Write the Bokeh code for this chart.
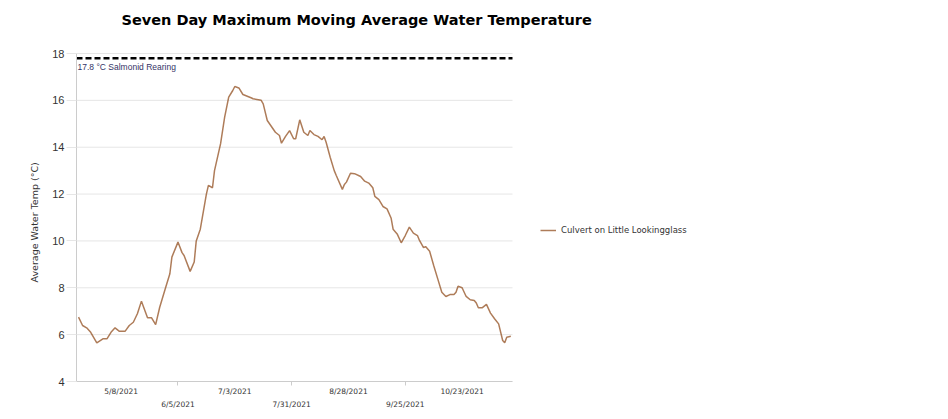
import pandas as pd
from bokeh.plotting import figure
from bokeh.models import (Label, Legend, LegendItem, FixedTicker, DatetimeAxis, Title,
                          DatetimeTickFormatter, Range1d, ColumnDataSource)
from bokeh.embed import file_html
from bokeh.resources import INLINE

# ---- data ----
dates = ["2021-04-17", "2021-04-19", "2021-04-21", "2021-04-23", "2021-04-26", "2021-04-29",
         "2021-05-01", "2021-05-03", "2021-05-05", "2021-05-07", "2021-05-10", "2021-05-12",
         "2021-05-14", "2021-05-16", "2021-05-18", "2021-05-20", "2021-05-21", "2021-05-23",
         "2021-05-25", "2021-05-27", "2021-05-30", "2021-06-01", "2021-06-02", "2021-06-05",
         "2021-06-07", "2021-06-08", "2021-06-11", "2021-06-13", "2021-06-14", "2021-06-16",
         "2021-06-19", "2021-06-20", "2021-06-22", "2021-06-23", "2021-06-26", "2021-06-28",
         "2021-06-30", "2021-07-02", "2021-07-03", "2021-07-05", "2021-07-07", "2021-07-11",
         "2021-07-12", "2021-07-16", "2021-07-17", "2021-07-19", "2021-07-23", "2021-07-25",
         "2021-07-26", "2021-07-28", "2021-07-30", "2021-08-01", "2021-08-02", "2021-08-04",
         "2021-08-06", "2021-08-08", "2021-08-09", "2021-08-11", "2021-08-13", "2021-08-15",
         "2021-08-16", "2021-08-17", "2021-08-19", "2021-08-21", "2021-08-22", "2021-08-25",
         "2021-08-26", "2021-08-27", "2021-08-29", "2021-08-31", "2021-09-03", "2021-09-05",
         "2021-09-07", "2021-09-09", "2021-09-10", "2021-09-12", "2021-09-14", "2021-09-16",
         "2021-09-18", "2021-09-19", "2021-09-21", "2021-09-23", "2021-09-25", "2021-09-27",
         "2021-09-29", "2021-10-01", "2021-10-02", "2021-10-04", "2021-10-05", "2021-10-07",
         "2021-10-09", "2021-10-11", "2021-10-13", "2021-10-15", "2021-10-17", "2021-10-19",
         "2021-10-20", "2021-10-21", "2021-10-23", "2021-10-25", "2021-10-27", "2021-10-29",
         "2021-10-30", "2021-10-31", "2021-11-02", "2021-11-04", "2021-11-06", "2021-11-08",
         "2021-11-10", "2021-11-12", "2021-11-13", "2021-11-14", "2021-11-16"]
temps = [6.75, 6.39, 6.29, 6.10, 5.65, 5.82,
         5.82, 6.10, 6.29, 6.15, 6.15, 6.39,
         6.53, 6.89, 7.43, 6.96, 6.72, 6.72,
         6.43, 7.17, 8.03, 8.60, 9.31, 9.95,
         9.50, 9.38, 8.70, 9.10, 10.00, 10.50,
         12.00, 12.37, 12.27, 13.00, 14.15, 15.28,
         16.14, 16.42, 16.59, 16.53, 16.25, 16.11,
         16.07, 16.00, 15.85, 15.14, 14.64, 14.50,
         14.17, 14.46, 14.71, 14.36, 14.36, 15.17,
         14.64, 14.50, 14.71, 14.54, 14.46, 14.32,
         14.46, 14.21, 13.57, 13.00, 12.79, 12.20,
         12.41, 12.51, 12.89, 12.87, 12.75, 12.55,
         12.47, 12.27, 11.90, 11.76, 11.47, 11.37,
         10.98, 10.50, 10.30, 9.92, 10.23, 10.59,
         10.33, 10.23, 10.02, 9.71, 9.76, 9.56,
         8.95, 8.38, 7.81, 7.63, 7.71, 7.71,
         7.81, 8.07, 8.00, 7.63, 7.49, 7.46,
         7.35, 7.15, 7.15, 7.29, 6.92, 6.68,
         6.46, 5.75, 5.65, 5.89, 5.93]
title_text = "Seven Day Maximum Moving Average Water Temperature"
y_title = "Average Water Temp (°C)"
series_name = "Culvert on Little Lookingglass"
threshold = 17.8
threshold_label = "17.8 °C Salmonid Rearing"
tick_row1 = ["2021-05-08", "2021-07-03", "2021-08-28", "2021-10-23"]
tick_row2 = ["2021-06-05", "2021-07-31", "2021-09-25"]
y_ticks = [4, 6, 8, 10, 12, 14, 16, 18]


def ms(d):
    return float(pd.Timestamp(d).value // 10**6)


# axis extents (the plotting area proper)
x_start = ms("2021-04-16")
x_end = ms("2021-11-16") + 20 * 3600 * 1000
y_lo, y_hi = 4, 18

# The drawing frame is extended to the right and to the top of the canvas so that
# the title and the legend can sit in it; the axes are bounded to the real area.
AREA_W, AREA_H, FRAME_W, TOP = 436, 328, 864, 53
x_far = x_start + (x_end - x_start) * FRAME_W / AREA_W
y_far = y_hi + TOP * (y_hi - y_lo) / AREA_H

src = ColumnDataSource(data=dict(x=pd.to_datetime(dates), y=temps))
grid_src = ColumnDataSource(data=dict(x0=[x_start] * len(y_ticks), x1=[x_end] * len(y_ticks),
                                      y=y_ticks))

p = figure(width=940, height=419, x_axis_type="datetime", output_backend="svg",
           toolbar_location=None,
           x_range=Range1d(x_start, x_far), y_range=Range1d(y_lo, y_far),
           min_border_left=76, min_border_right=0, min_border_top=0, min_border_bottom=38)
p.outline_line_color = None
p.background_fill_color = "white"
p.border_fill_color = "white"
p.xgrid.grid_line_color = None
p.ygrid.grid_line_color = None

# horizontal grid lines limited to the plotting area
p.segment(x0="x0", x1="x1", y0="y", y1="y", source=grid_src, line_color="#e6e6e6",
          line_width=1)

# title
p.add_layout(Label(x=45, y=362, x_units="screen", y_units="screen", text=title_text,
                   text_align="left", text_baseline="middle", text_font="DejaVu Sans",
                   text_font_style="bold", text_font_size="14.5px", text_color="#000000"))

# y axis
ya = p.yaxis[0]
ya.bounds = (y_lo, y_hi)
ya.ticker = FixedTicker(ticks=y_ticks, minor_ticks=[])
ya.axis_line_color = "#cccccc"
ya.major_tick_line_color = "#e6e6e6"
ya.major_tick_out = 10
ya.major_tick_in = 0
ya.minor_tick_line_color = None
ya.major_label_standoff = 2
ya.major_label_text_font = "Liberation Sans"
ya.major_label_text_font_size = "11px"
ya.major_label_text_color = "#333333"

# y axis title (placed along the bounded axis)
p.add_layout(Title(text=y_title, align="left", offset=99, standoff=17, vertical_align="middle",
                   text_font="DejaVu Sans", text_font_size="9.5px", text_font_style="normal",
                   text_color="#333333"), "left")

fmt = DatetimeTickFormatter(days="%-m/%-d/%Y", months="%-m/%-d/%Y")

# x axis row 1
xa = p.xaxis[0]
xa.bounds = (x_start, x_end)
xa.ticker = FixedTicker(ticks=[ms(d) for d in tick_row1], minor_ticks=[ms(d) for d in tick_row2])
xa.formatter = fmt
xa.axis_line_color = "#cccccc"
xa.major_tick_out = 0
xa.major_tick_in = 0
xa.minor_tick_out = 4
xa.minor_tick_in = 0
xa.minor_tick_line_color = "#cccccc"
xa.major_label_standoff = 1
xa.major_label_text_font = "DejaVu Sans"
xa.major_label_text_font_size = "7.5px"
xa.major_label_text_color = "#333333"

# x axis row 2 (staggered labels)
xb = DatetimeAxis(ticker=FixedTicker(ticks=[ms(d) for d in tick_row2], minor_ticks=[]),
                  formatter=fmt, bounds=(x_start, x_end))
xb.axis_line_color = None
xb.major_tick_line_color = None
xb.minor_tick_line_color = None
xb.major_tick_out = 0
xb.major_tick_in = 0
xb.major_label_standoff = 1
xb.major_label_text_font = "DejaVu Sans"
xb.major_label_text_font_size = "7.5px"
xb.major_label_text_color = "#333333"
p.add_layout(xb, "below")

# threshold
p.segment(x0=[x_start], x1=[x_end], y0=[threshold], y1=[threshold], line_color="black",
          line_width=2.5, line_dash="6 3")
p.add_layout(Label(x=ms(dates[0]), y=threshold, text=threshold_label, text_baseline="top",
                   y_offset=-4, x_offset=-1, text_font="Liberation Sans",
                   text_font_size="8.5px", text_color="#333366"))

# series
r = p.line("x", "y", source=src, line_color="#8B4513", line_alpha=0.7, line_width=1.5)

legend = Legend(items=[LegendItem(label=series_name, renderers=[r])],
                location=(464, 146), padding=0, margin=0, border_line_color=None,
                background_fill_alpha=0, glyph_width=16, glyph_height=10,
                label_standoff=5, label_text_font="DejaVu Sans",
                label_text_font_size="8.5px", label_text_color="#333333")
p.add_layout(legend, "center")

open("out.html", "w").write(file_html(p, INLINE))
